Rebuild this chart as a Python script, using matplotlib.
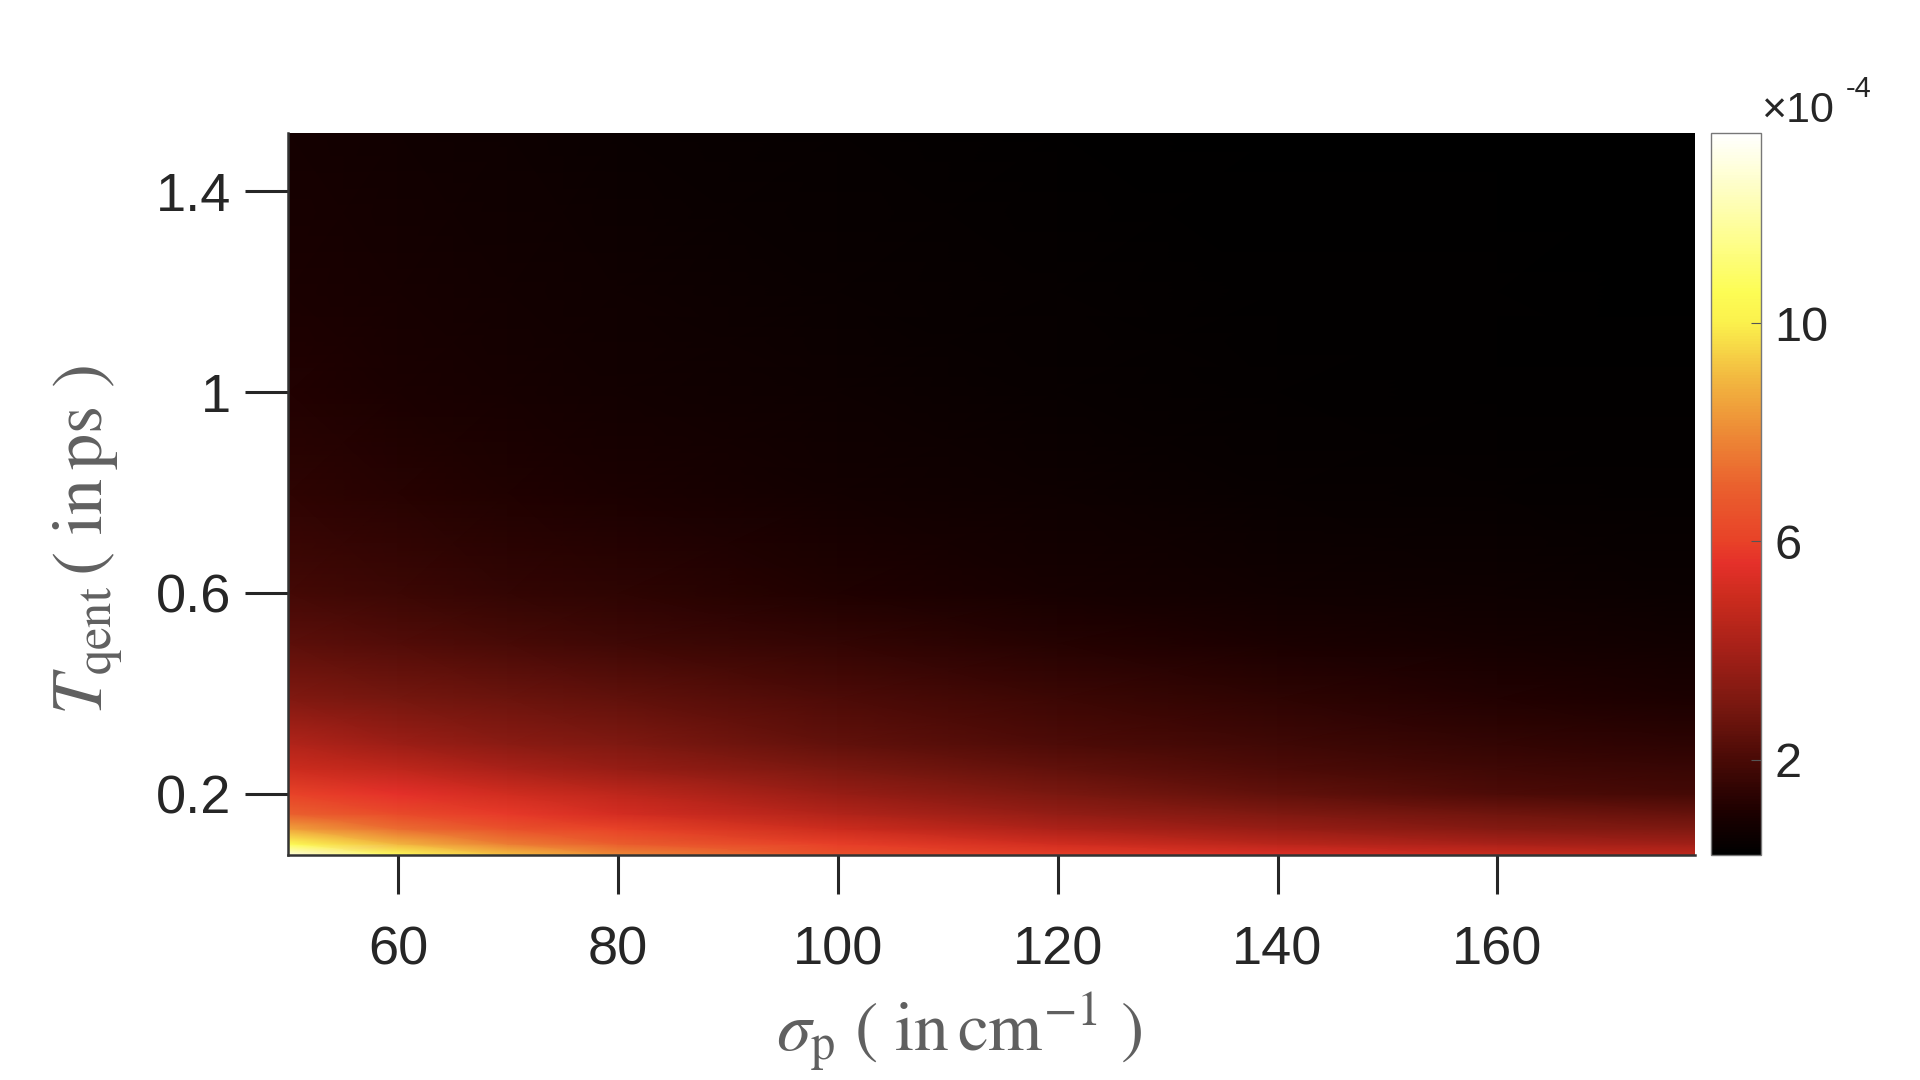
import numpy as np
import matplotlib
matplotlib.use("Agg")
import matplotlib.pyplot as plt
from matplotlib.colors import LinearSegmentedColormap

# grid (values in units of 1e-4)
sigma_p = [50, 60, 70, 80, 100, 120, 140, 160, 178]
t_qent = [0.078, 0.1, 0.13, 0.16, 0.2, 0.25, 0.3, 0.39, 0.5, 0.6, 0.8, 1.0, 1.2, 1.517]

row_0078 = [13.0, 10.7, 9.2, 8.0, 6.5, 5.9, 5.4, 5.0, 4.7]
row_010 = [10.6, 8.9, 7.7, 6.9, 5.9, 5.1, 4.5, 4.1, 3.9]
row_013 = [8.5, 7.3, 6.5, 6.0, 5.0, 4.2, 3.7, 3.3, 3.1]
row_016 = [7.0, 6.3, 5.8, 5.2, 4.3, 3.6, 3.1, 2.8, 2.6]
row_020 = [6.0, 5.6, 5.1, 4.6, 3.7, 3.0, 2.5, 2.1, 1.9]
row_025 = [5.0, 4.6, 4.1, 3.7, 3.0, 2.5, 2.1, 1.8, 1.6]
row_030 = [4.3, 3.8, 3.4, 3.1, 2.5, 2.1, 1.8, 1.5, 1.35]
row_039 = [3.2, 2.9, 2.7, 2.5, 2.1, 1.7, 1.4, 1.15, 1.0]
row_050 = [2.4, 2.2, 2.0, 1.8, 1.5, 1.2, 1.0, 0.85, 0.75]
row_060 = [1.9, 1.7, 1.5, 1.4, 1.1, 0.9, 0.75, 0.62, 0.55]
row_080 = [1.4, 1.25, 1.1, 1.0, 0.8, 0.62, 0.5, 0.42, 0.38]
row_100 = [1.15, 1.0, 0.9, 0.8, 0.62, 0.48, 0.4, 0.35, 0.32]
row_120 = [1.0, 0.88, 0.78, 0.68, 0.52, 0.42, 0.35, 0.31, 0.29]
row_152 = [0.85, 0.72, 0.62, 0.55, 0.42, 0.35, 0.3, 0.27, 0.25]

rows = [row_0078, row_010, row_013, row_016, row_020, row_025, row_030,
        row_039, row_050, row_060, row_080, row_100, row_120, row_152]

x_ticks = [60, 80, 100, 120, 140, 160]
y_ticks = [0.2, 0.6, 1.0, 1.4]
y_ticklabels = ["0.2", "0.6", "1", "1.4"]
cbar_ticks = [2, 6, 10]
vmin, vmax = 0.25, 13.5

# colormap sampled from the colorbar (value, colour)
cmap_stops = [
    (0.25, "#000000"), (1.0, "#1c0000"), (2.0, "#4a0a06"), (3.0, "#7a1810"),
    (4.0, "#a52018"), (5.0, "#cd2c1e"), (5.6, "#e5302a"), (6.0, "#e84228"),
    (7.0, "#ea602e"), (8.0, "#ed8a36"), (9.0, "#f2b840"), (10.0, "#fbf04c"),
    (10.6, "#fdfd55"), (12.0, "#fefea8"), (13.5, "#ffffff"),
]
cmap = LinearSegmentedColormap.from_list(
    "custom_hot", [((v - vmin) / (vmax - vmin), c) for v, c in cmap_stops])

plt.rcParams["font.family"] = ["Liberation Sans", "DejaVu Sans"]

fig = plt.figure(figsize=(19.2, 10.8), dpi=100)
ax = fig.add_axes([0.15, 0.2083, 0.733, 0.669])

Z = np.array(rows)
mesh = ax.pcolormesh(sigma_p, t_qent, Z, cmap=cmap, vmin=vmin, vmax=vmax,
                     shading="gouraud", rasterized=True)

ax.set_xlim(50, 178)
ax.set_ylim(0.078, 1.517)
ax.set_xticks(x_ticks)
ax.set_yticks(y_ticks)
ax.set_yticklabels(y_ticklabels)

for side in ["top", "right"]:
    ax.spines[side].set_visible(False)
for side in ["left", "bottom"]:
    ax.spines[side].set_color("#333333")
    ax.spines[side].set_linewidth(1.8)

ax.tick_params(axis="x", direction="out", length=28, width=2.2,
               color="#262626", labelsize=39, labelcolor="#262626", pad=23)
ax.tick_params(axis="y", direction="out", length=31, width=2.2,
               color="#262626", labelsize=39, labelcolor="#262626", pad=10)

# axis labels (serif, grey, like MATLAB latex labels)
fig.text(0.4995, 0.044, r"$\sigma_{\rm p}\ (\ {\rm in\,cm}^{-1}\ )$",
         ha="center", va="center", fontsize=50, color="#606060",
         math_fontfamily="stix")
fig.text(0.046, 0.5, r"$T_{\rm qent}\,(\ {\rm in\,ps}\ )$",
         ha="center", va="center", rotation=90, fontsize=52, color="#606060",
         math_fontfamily="stix")

# colorbar
cax = fig.add_axes([0.891, 0.2083, 0.026, 0.669])
cbar = fig.colorbar(mesh, cax=cax, ticks=cbar_ticks)
cbar.outline.set_edgecolor("#777777")
cbar.outline.set_linewidth(1.0)
cbar.ax.tick_params(direction="in", length=7, width=0.8, color="#555555",
                    labelsize=35, labelcolor="#262626", pad=10)
cbar.set_ticklabels([str(t) for t in cbar_ticks])

fig.text(0.917, 0.897, "\u00d710", ha="left", va="center", fontsize=31,
         color="#262626")
fig.text(0.9615, 0.918, "-4", ha="left", va="center", fontsize=21,
         color="#262626")

fig.savefig("out.png", dpi=100)
